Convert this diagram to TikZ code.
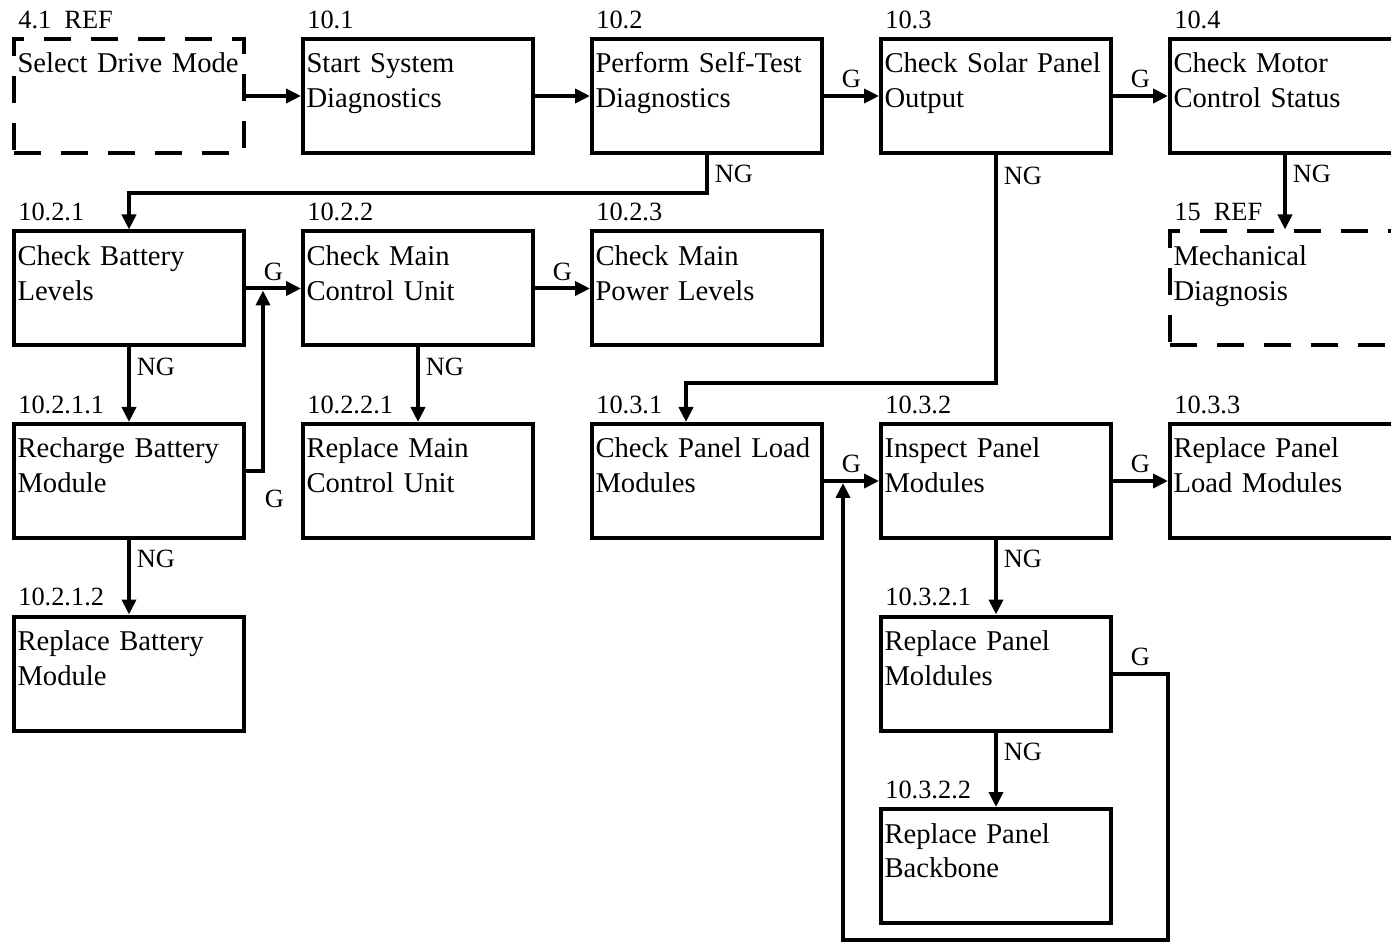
\documentclass[tikz,border=0pt]{standalone}
\usepackage{fontspec}
\setmainfont{Liberation Serif}
\usetikzlibrary{arrows.meta,positioning}

\newcommand{\boxfont}{\fontsize{16.3}{19.8}\selectfont}
\newcommand{\lblfont}{\fontsize{15}{17}\selectfont}

\begin{document}
\begin{tikzpicture}[
        box/.style={
            draw,
            line width=0.08cm,
            align=left,
            text width=4.46cm,
            inner xsep=0.07cm,
            inner ysep=0cm,
            text height=0.68cm,
            text depth=1.6cm,
            font=\boxfont
        },
        refbox/.style={
            box,
            dash pattern=on 0.54cm off 0.4cm
        },
        num/.style={
            anchor=south west,
            inner sep=0pt,
            xshift=0.12cm,
            yshift=0.16cm,
            font=\lblfont
        },
        flow/.style={-{Triangle[length=0.3cm,width=0.28cm]},line width=0.08cm},
        gl/.style={above,font=\lblfont},
        ngl/.style={right,pos=0.26,font=\lblfont},
        node distance=1.49cm and 1.1cm
    ]

        \useasboundingbox (0,0) rectangle (27.82,-18.86);
        \clip (0,0) rectangle (27.82,-18.86);

        \node[refbox, anchor=north west, label={[num]north west:4.1\ \ REF}]
            (sdm) at (0.24,-0.74) {Select Drive Mode};
        \node[box, right=of sdm, label={[num]north west:10.1}]
            (sds) {Start System\\Diagnostics};
        \node[box, right=of sds, label={[num]north west:10.2}]
            (pst) {Perform Self-Test\\Diagnostics};
        \node[box, right=of pst, label={[num]north west:10.3}]
            (csp) {Check Solar Panel\\Output};
        \node[box, right=of csp, label={[num]north west:10.4}]
            (cms) {Check Motor\\Control Status};

        \node[box, below=of sdm, label={[num]north west:10.2.1}]
            (cbl) {Check Battery\\Levels};
        \node[box, right=of cbl, label={[num]north west:10.2.2}]
            (cmu) {Check Main\\Control Unit};
        \node[box, right=of cmu, label={[num]north west:10.2.3}]
            (cmp) {Check Main\\Power Levels};
        \node[refbox, below=of cms, label={[num]north west:15\ \ REF}]
            (mdg) {Mechanical\\Diagnosis};

        \node[box, below=of cbl, label={[num]north west:10.2.1.1}]
            (rbm) {Recharge Battery\\Module};
        \node[box, right=of rbm, label={[num]north west:10.2.2.1}]
            (rmu) {Replace Main\\Control Unit};
        \node[box, right=of rmu, label={[num]north west:10.3.1}]
            (cpl) {Check Panel Load\\Modules};
        \node[box, right=of cpl, label={[num]north west:10.3.2}]
            (ipm) {Inspect Panel\\Modules};
        \node[box, right=of ipm, label={[num]north west:10.3.3}]
            (rpl) {Replace Panel\\Load Modules};

        \node[box, below=of rbm, label={[num]north west:10.2.1.2}]
            (rbb) {Replace Battery\\Module};
        \node[box, below=of ipm, label={[num]north west:10.3.2.1}]
            (rpm) {Replace Panel\\Moldules};
        \node[box, below=of rpm, label={[num]north west:10.3.2.2}]
            (rpb) {Replace Panel\\Backbone};

        \coordinate (jb) at ([xshift=0.34cm]cbl.east);
        \coordinate (jp) at ([xshift=0.38cm]cpl.east);

        \draw[flow] (sdm) -- (sds);
        \draw[flow] (sds) -- (pst);
        \draw[flow] (pst) -- node[gl]{G} (csp);
        \draw[flow] (csp) -- node[gl]{G} (cms);
        \draw[flow] (pst.south) -- node[ngl,pos=0.5]{NG} ++(0,-0.76) -| (cbl.north);
        \draw[flow] (csp.south) -- node[ngl,pos=0.09]{NG} ++(0,-4.56)
            -| ([xshift=-0.42cm]cpl.north);
        \draw[flow] (cms) -- node[ngl]{NG} (mdg);

        \draw[flow] (cbl) -- node[gl]{G} (cmu);
        \draw[flow] (cmu) -- node[gl]{G} (cmp);
        \draw[flow] (cbl) -- node[ngl]{NG} (rbm);
        \draw[flow] (cmu) -- node[ngl]{NG} (rmu);
        \draw[flow] (rbm) -- node[ngl]{NG} (rbb);
        \draw[flow, shorten >=0.04cm] ([yshift=0.2cm]rbm.east)
            -| node[below right, pos=0.5, xshift=-0.12cm, yshift=-0.22cm,
                    font=\lblfont]{G} (jb);

        \draw[flow] (cpl) -- node[gl]{G} (ipm);
        \draw[flow] (ipm) -- node[gl]{G} (rpl);
        \draw[flow] (ipm) -- node[ngl]{NG} (rpm);
        \draw[flow] (rpm) -- node[ngl]{NG} (rpb);

        % Loop back under the bottom box to the G line.
        \draw[flow, shorten >=0.04cm] (rpm.east) -- node[gl]{G} (rpm.east -| rpl.west)
            |- ([yshift=-0.3cm]rpb.south) -| (jp);

    \end{tikzpicture}
\end{document}
